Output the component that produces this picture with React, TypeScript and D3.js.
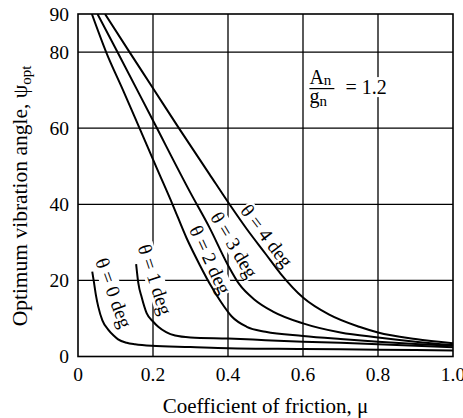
import React, { useEffect, useRef } from 'react';
import * as d3 from 'd3';

// axis ticks
const muTicks = [0, 0.2, 0.4, 0.6, 0.8, 1.0];
const muTickLabels = ['0', '0.2', '0.4', '0.6', '0.8', '1.0'];
const psiTicks = [0, 20, 40, 60, 80, 90];
const muGrid = [0.2, 0.4, 0.6, 0.8];
const psiGrid = [20, 40, 60, 80];

// curves: [mu, psi_opt]
const theta0 = [[0.038, 22.3], [0.043, 19.2], [0.048, 16], [0.054, 13.1], [0.065, 9.5], [0.081, 7.0], [0.095, 5.5], [0.107, 4.5], [0.13, 3.6], [0.152, 3.2], [0.196, 2.8], [0.3, 2.5], [0.4, 2.2], [0.6, 2.0], [0.8, 1.8], [1.0, 1.6]];
const theta1 = [[0.155, 24.3], [0.161, 19.2], [0.17, 15.5], [0.183, 11.4], [0.2, 9.2], [0.214, 7.8], [0.235, 6.4], [0.259, 5.5], [0.3, 5.0], [0.4, 4.7], [0.5, 4.3], [0.6, 3.9], [0.7, 3.6], [0.8, 3.2], [0.9, 2.8], [1.0, 2.4]];
const theta2 = [[0.037, 90], [0.075, 80], [0.12, 70], [0.164, 60], [0.21, 49.5], [0.252, 40], [0.29, 31], [0.325, 24], [0.355, 18.5], [0.38, 14.5], [0.41, 10.5], [0.45, 7.8], [0.5, 6.5], [0.6, 5.4], [0.7, 4.6], [0.8, 3.9], [0.9, 3.3], [1.0, 2.8]];
const theta3 = [[0.052, 90], [0.1, 81], [0.2, 62], [0.3, 43], [0.35, 34], [0.4, 24], [0.43, 19], [0.47, 15], [0.52, 11.8], [0.6, 8.7], [0.7, 6.3], [0.8, 5.0], [0.9, 3.9], [1.0, 3.0]];
const theta4 = [[0.072, 90], [0.134, 80.5], [0.2, 70.5], [0.269, 60], [0.35, 48], [0.404, 40], [0.45, 33.5], [0.5, 27], [0.54, 21.8], [0.6, 15.5], [0.67, 11], [0.75, 7.8], [0.8, 6.3], [0.9, 4.6], [1.0, 3.5]];
const curves = [theta0, theta1, theta2, theta3, theta4];

// curve labels
const curveLabels = ['θ = 0 deg', 'θ = 1 deg', 'θ = 2 deg', 'θ = 3 deg', 'θ = 4 deg'];
const labelMu = [0.095, 0.205, 0.352, 0.416, 0.503];
const labelPsi = [16.7, 20.2, 25.4, 29.3, 31.7];
const labelAngle = [70, 72, 65, 59, 53];

const W = 463;
const H = 418;
const FONT = '"Liberation Serif", "Times New Roman", serif';

// white box behind a text element, in its own coordinates
const boxBehind = (parent: any, textSel: any, pad: number) => {
  const b = textSel.node().getBBox();
  parent.insert('rect', () => textSel.node())
    .attr('x', b.x - pad).attr('y', b.y + 2 - pad)
    .attr('width', b.width + 2 * pad).attr('height', b.height - 4 + 2 * pad)
    .attr('fill', '#fff');
};

const App = () => {
  const ref = useRef<SVGSVGElement>(null);

  useEffect(() => {
    const svg = d3.select(ref.current);
    svg.selectAll('*').remove();

    const x = d3.scaleLinear().domain([0, 1]).range([78, 453]);
    const y = d3.scaleLinear().domain([0, 90]).range([356.5, 14]);

    svg.append('rect').attr('width', W).attr('height', H).attr('fill', '#fff');

    svg.append('defs').append('clipPath').attr('id', 'plot')
      .append('rect')
      .attr('x', x(0)).attr('y', y(90))
      .attr('width', x(1) - x(0)).attr('height', y(0) - y(90));

    // grid
    svg.append('g').selectAll('line').data(muGrid).enter().append('line')
      .attr('x1', d => x(d)).attr('x2', d => x(d))
      .attr('y1', y(0)).attr('y2', y(90))
      .attr('stroke', '#000').attr('stroke-width', 1.3);
    svg.append('g').selectAll('line').data(psiGrid).enter().append('line')
      .attr('x1', x(0)).attr('x2', x(1))
      .attr('y1', d => y(d)).attr('y2', d => y(d))
      .attr('stroke', '#000').attr('stroke-width', 1.3);

    // curve labels on white boxes that break the grid
    curveLabels.forEach((label, i) => {
      const lg = svg.append('g')
        .attr('transform', `translate(${x(labelMu[i])},${y(labelPsi[i])}) rotate(${labelAngle[i]})`);
      const t = lg.append('text')
        .attr('text-anchor', 'middle')
        .attr('dominant-baseline', 'central')
        .attr('font-family', FONT)
        .attr('font-size', 19.5)
        .attr('fill', '#000')
        .text(label);
      boxBehind(lg, t, 1);
    });

    // annotation An/gn = 1.2
    const ax = x(0.617);
    const ay = y(70.4);
    const note = svg.append('g').attr('font-family', FONT).attr('fill', '#000');
    const a = note.append('text').attr('x', ax).attr('y', ay - 5).attr('font-size', 20);
    a.append('tspan').text('A');
    a.append('tspan').attr('font-size', 15).attr('dy', 1).text('n');
    note.append('line')
      .attr('x1', ax).attr('x2', ax + 25).attr('y1', ay).attr('y2', ay)
      .attr('stroke', '#000').attr('stroke-width', 1.2);
    const g = note.append('text').attr('x', ax).attr('y', ay + 14).attr('font-size', 20);
    g.append('tspan').text('g');
    g.append('tspan').attr('font-size', 15).attr('dy', 3).text('n');
    const eq = note.append('text').attr('x', ax + 36).attr('y', ay + 5.5).attr('font-size', 20)
      .text('= 1.2');
    boxBehind(note, eq, 1);

    // curves
    const line = d3.line<number[]>()
      .x(d => x(d[0]))
      .y(d => y(d[1]))
      .curve(d3.curveMonotoneX);
    svg.append('g').attr('clip-path', 'url(#plot)')
      .selectAll('path').data(curves).enter().append('path')
      .attr('d', d => line(d))
      .attr('fill', 'none')
      .attr('stroke', '#000')
      .attr('stroke-width', 2);

    // frame
    svg.append('rect')
      .attr('x', x(0)).attr('y', y(90))
      .attr('width', x(1) - x(0)).attr('height', y(0) - y(90))
      .attr('fill', 'none').attr('stroke', '#000').attr('stroke-width', 1.6);

    // tick labels
    svg.append('g').selectAll('text').data(muTicks).enter().append('text')
      .attr('x', d => x(d)).attr('y', 381)
      .attr('text-anchor', 'middle')
      .attr('font-family', FONT).attr('font-size', 19.5)
      .text((d, i) => muTickLabels[i]);
    svg.append('g').selectAll('text').data(psiTicks).enter().append('text')
      .attr('x', 69).attr('y', d => y(d))
      .attr('text-anchor', 'end')
      .attr('dominant-baseline', 'central')
      .attr('font-family', FONT).attr('font-size', 19.5)
      .text(d => String(d));

    // axis titles
    svg.append('text')
      .attr('x', (x(0) + x(1)) / 2).attr('y', 413)
      .attr('text-anchor', 'middle')
      .attr('font-family', FONT).attr('font-size', 21)
      .text('Coefficient of friction, μ');

    const yt = svg.append('text')
      .attr('transform', 'translate(27,196) rotate(-90)')
      .attr('text-anchor', 'middle')
      .attr('font-family', FONT).attr('font-size', 21.5);
    yt.append('tspan').text('Optimum vibration angle, ψ');
    yt.append('tspan').attr('font-size', 15).attr('dy', 4).text('opt');
  }, []);

  return (
    <svg ref={ref} width={W} height={H}
      style={{ position: 'absolute', left: 0, top: 0, display: 'block' }}></svg>
  );
};

export default App;
